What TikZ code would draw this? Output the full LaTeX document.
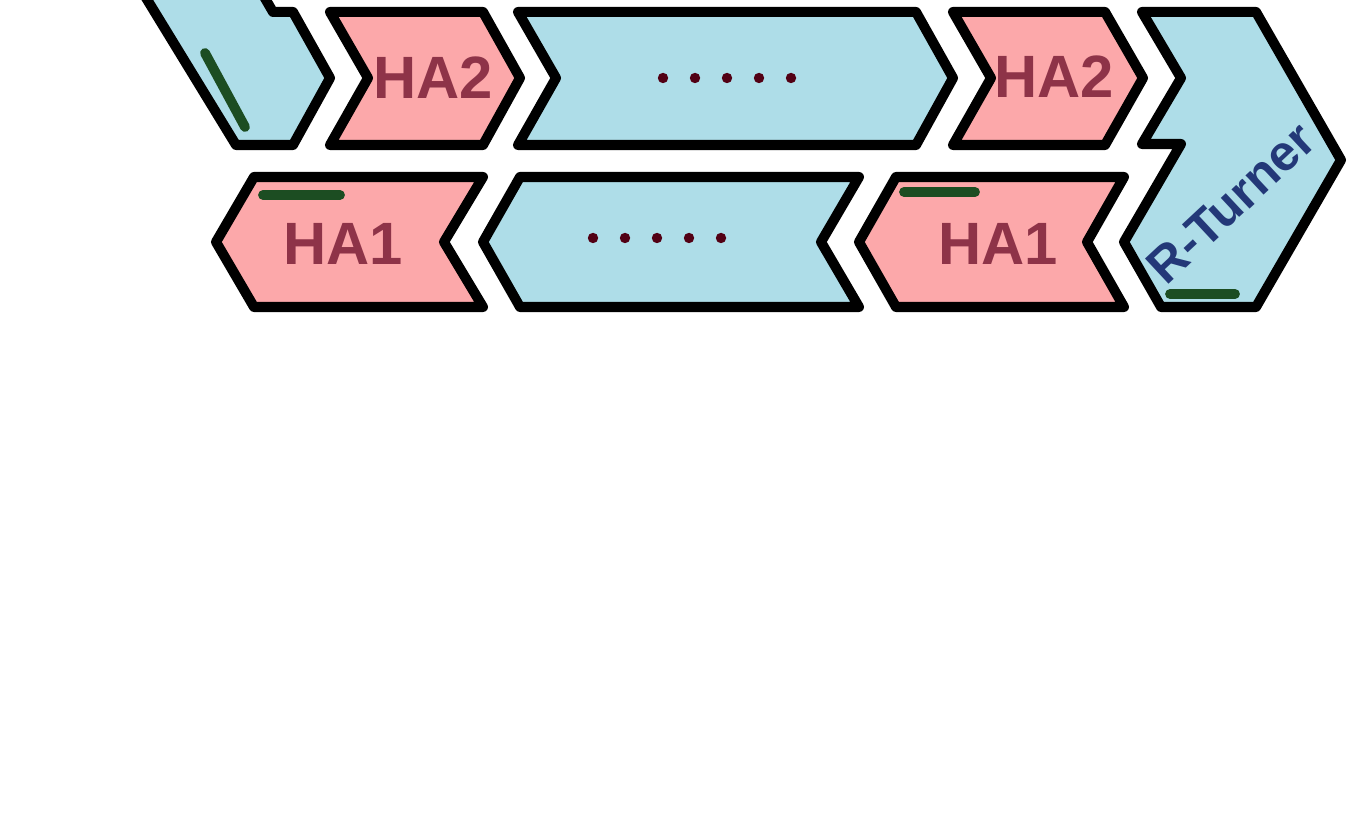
\documentclass[tikz,border=0pt]{standalone}
\usepackage{fontspec}
\setmainfont{Liberation Sans}
\definecolor{segblue}{RGB}{174,221,232}
\definecolor{segpink}{RGB}{252,168,170}
\definecolor{labred}{RGB}{142,51,72}
\definecolor{labblue}{RGB}{35,56,120}
\definecolor{markgreen}{RGB}{28,77,34}
\definecolor{dotred}{RGB}{82,0,20}
\begin{document}
\begin{tikzpicture}[x=0.02cm, y=-0.02cm,
  seg/.style={draw=black, line width=5.7pt, line join=round},
  greenbar/.style={markgreen, line width=5.6pt, line cap=round},
  ha/.style={font=\fontsize{34}{34}\bfseries, text=labred, inner sep=0pt}]
  \useasboundingbox (0,0) rectangle (1352,813);
  \begin{scope}
    \clip (0,0) rectangle (1352,813);
    % left piece, cut at the top
    \filldraw[seg, fill=segblue] (140,-12) -- (236,145) -- (293,145) -- (330,78) -- (293,12) -- (273,12) -- (259,-12);
  \end{scope}
  % top row
  \filldraw[seg, fill=segpink] (330,12) -- (483,12) -- (520,78) -- (483,145) -- (330,145) -- (368,78) -- cycle;
  \filldraw[seg, fill=segblue] (518,12) -- (916,12) -- (953,78) -- (916,145) -- (518,145) -- (556,78) -- cycle;
  \filldraw[seg, fill=segpink] (953,12) -- (1105,12) -- (1143,78) -- (1105,145) -- (953,145) -- (991,78) -- cycle;
  \filldraw[seg, fill=segblue] (1142,12) -- (1256,12) -- (1341,160) -- (1256,307) -- (1161,307) -- (1124,242) -- (1181,144) -- (1142,144) -- (1181,78) -- cycle;
  % bottom row
  \filldraw[seg, fill=segpink] (254,177) -- (483,177) -- (444,242) -- (483,307) -- (254,307) -- (216,242) -- cycle;
  \filldraw[seg, fill=segblue] (520,177) -- (859,177) -- (821,242) -- (859,307) -- (520,307) -- (483,242) -- cycle;
  \filldraw[seg, fill=segpink] (896,177) -- (1124,177) -- (1087,242) -- (1124,307) -- (896,307) -- (859,242) -- cycle;
  % green marks
  \draw[greenbar] (205,53) -- (245,127);
  \draw[greenbar] (263,195) -- (340,195);
  \draw[greenbar] (904,192) -- (975,192);
  \draw[greenbar] (1170,294) -- (1235,294);
  % dots
  \foreach \i in {0,...,4} {
    \fill[dotred] (663+32*\i,78) circle (5.2);
    \fill[dotred] (593+32*\i,238) circle (5.2);
  }
  \node[ha] (ha2a) at (433,78) {HA2};
  \node[ha] (ha2b) at (1054,77) {HA2};
  \node[ha] (ha1a) at (343,244) {HA1};
  \node[ha] (ha1b) at (998,244) {HA1};
  \node[font=\fontsize{28.5}{28.5}\bfseries, text=labblue, rotate=43, inner sep=0pt] (rturn) at (1231,203) {R-Turner};
\end{tikzpicture}
\end{document}
